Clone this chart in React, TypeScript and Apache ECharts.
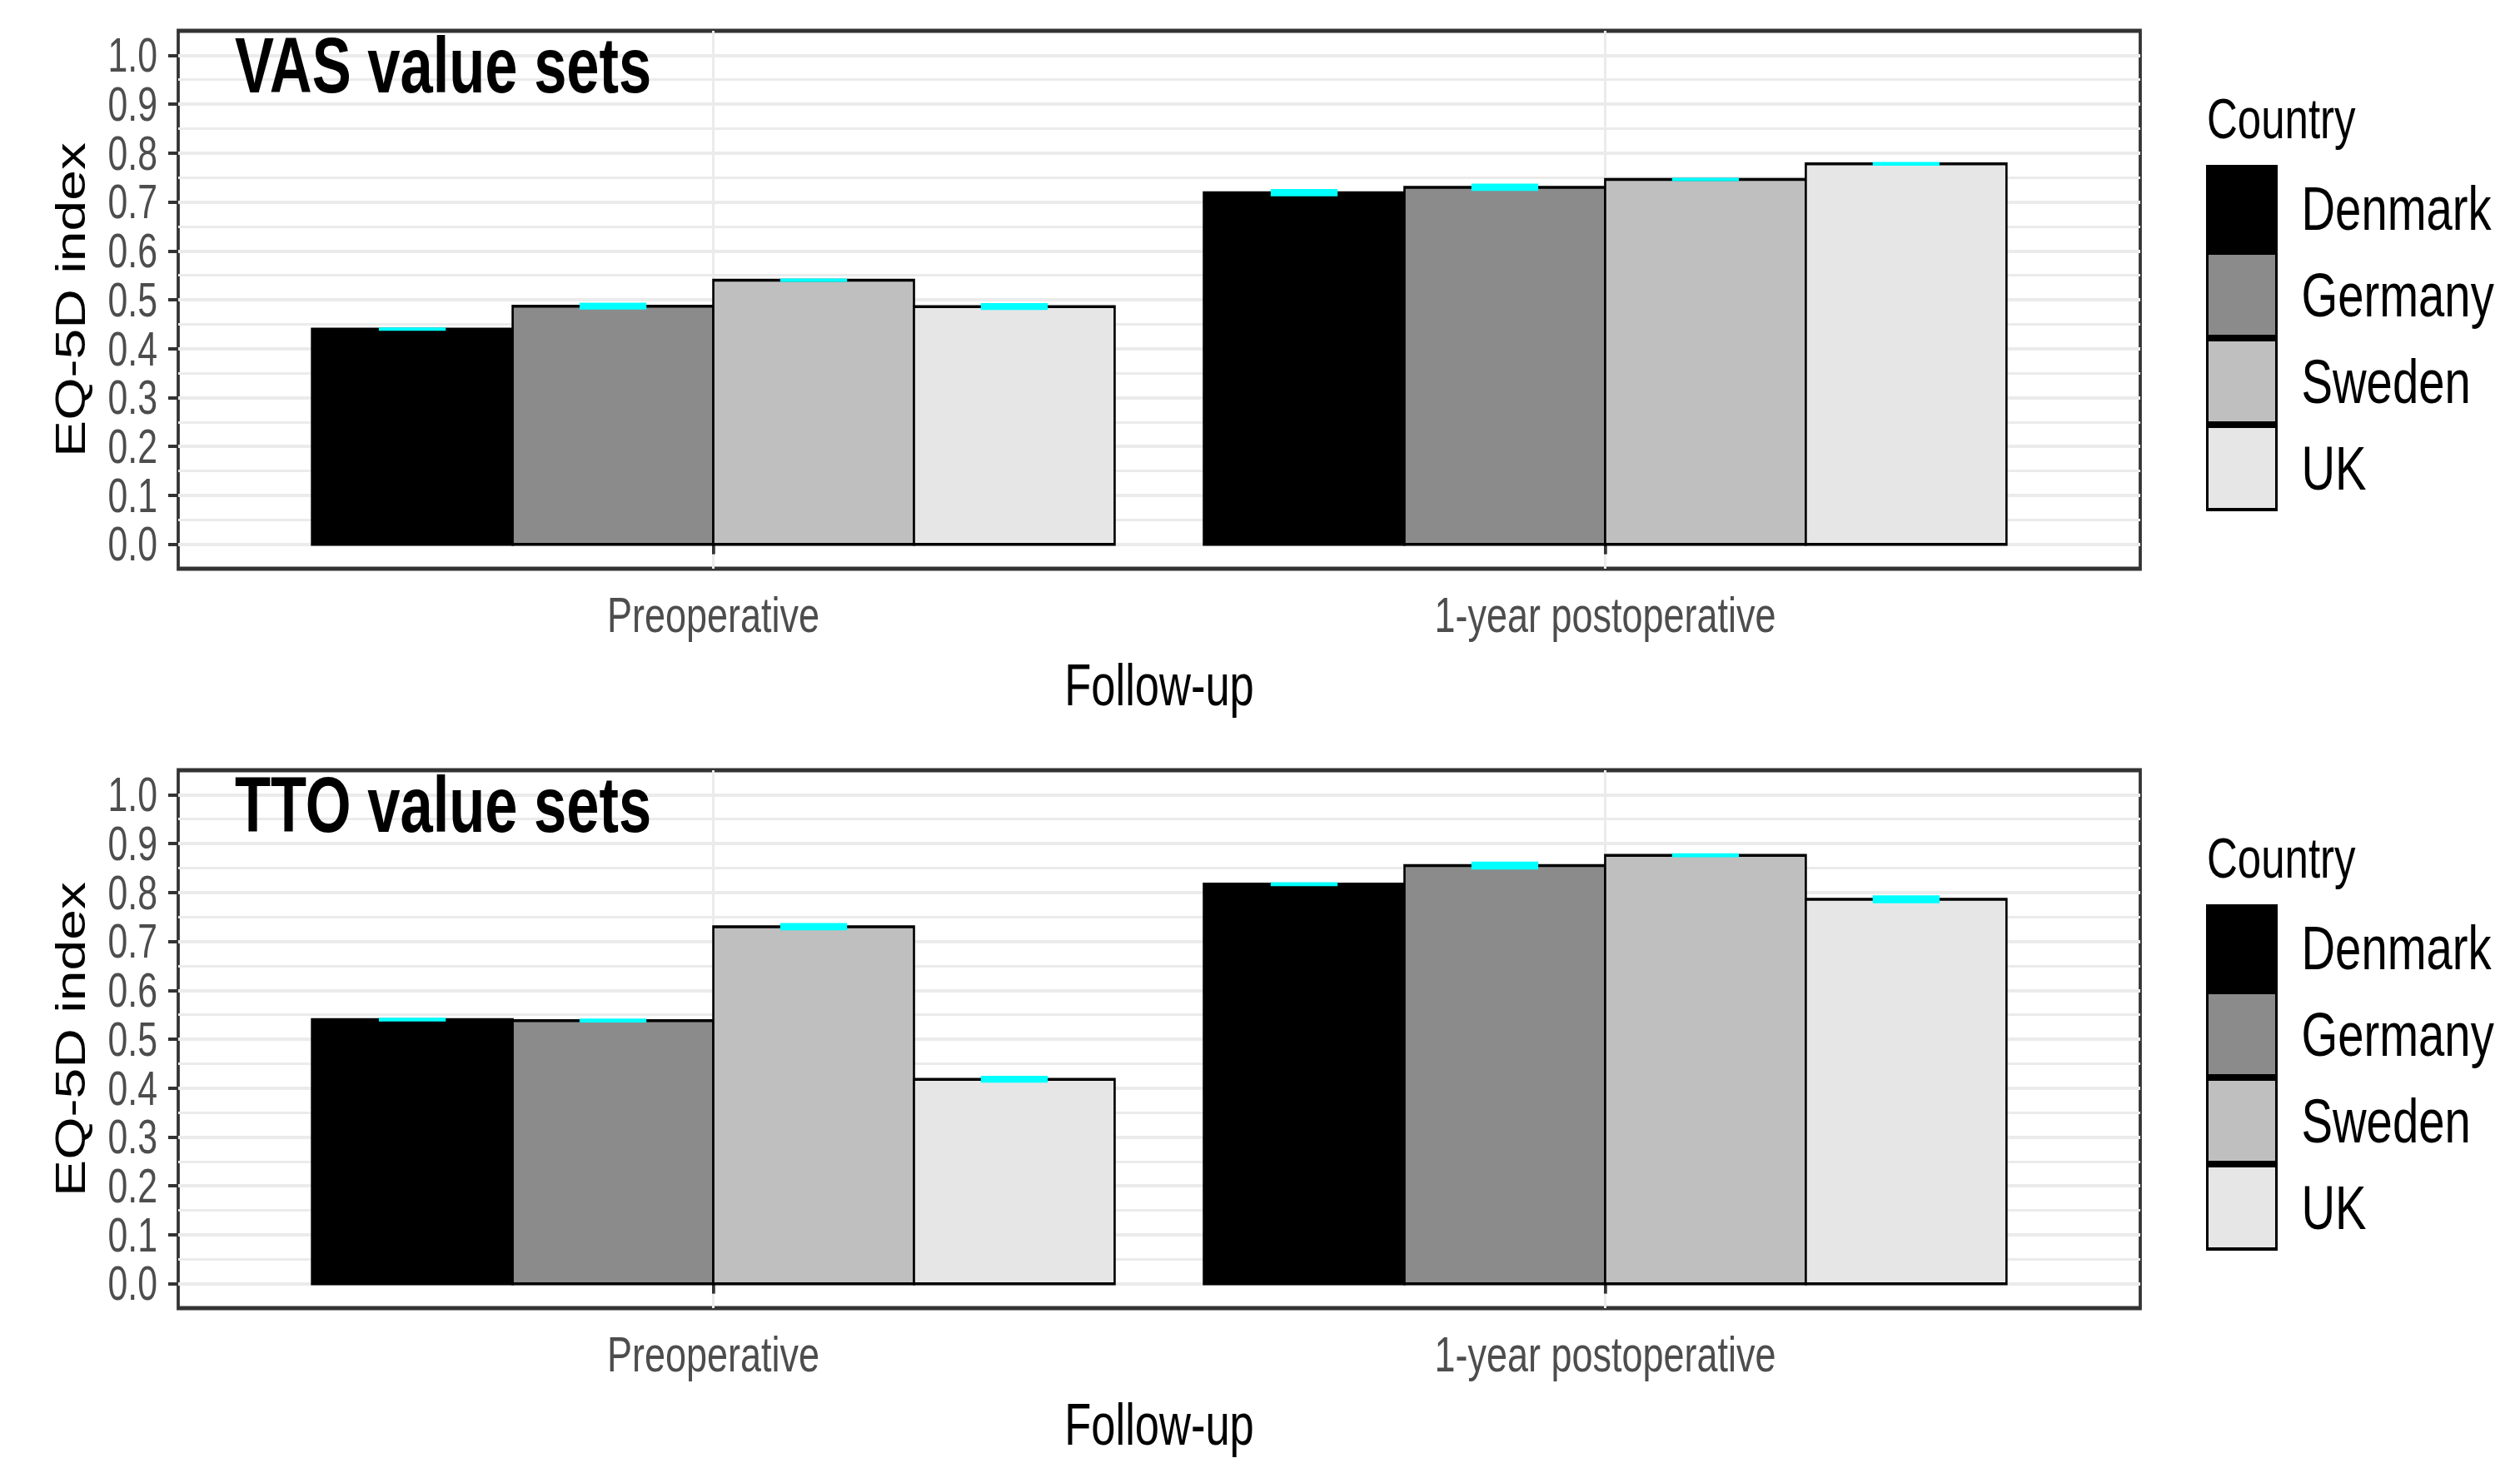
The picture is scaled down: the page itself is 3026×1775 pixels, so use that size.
import React, { useEffect, useRef } from "react";
import * as echarts from "echarts";

// ---------- data ----------
const categories = ["Preoperative", "1-year postoperative"];
const countries = ["Denmark", "Germany", "Sweden", "UK"];
const countryColors = ["#000000", "#8B8B8B", "#BFBFBF", "#E6E6E6"];
const yTicks = [0, 0.1, 0.2, 0.3, 0.4, 0.5, 0.6, 0.7, 0.8, 0.9, 1.0];
const yMinorTicks = [0.05, 0.15, 0.25, 0.35, 0.45, 0.55, 0.65, 0.75, 0.85, 0.95];
const panelTitles = ["VAS value sets", "TTO value sets"];

// VAS value sets (mean EQ-5D index per follow-up)
const vasDenmark = [0.44, 0.719];
const vasGermany = [0.487, 0.73];
const vasSweden = [0.54, 0.746];
const vasUK = [0.486, 0.778];
// half-width of the (cyan) interval
const vasDenmarkCI = [0.0035, 0.0075];
const vasGermanyCI = [0.007, 0.0075];
const vasSwedenCI = [0.0035, 0.0035];
const vasUKCI = [0.007, 0.004];

// TTO value sets
const ttoDenmark = [0.54, 0.817];
const ttoGermany = [0.538, 0.855];
const ttoSweden = [0.73, 0.876];
const ttoUK = [0.418, 0.786];
const ttoDenmarkCI = [0.004, 0.004];
const ttoGermanyCI = [0.004, 0.008];
const ttoSwedenCI = [0.0075, 0.004];
const ttoUKCI = [0.007, 0.008];

const panelValues = [
  [vasDenmark, vasGermany, vasSweden, vasUK],
  [ttoDenmark, ttoGermany, ttoSweden, ttoUK],
];
const panelCIs = [
  [vasDenmarkCI, vasGermanyCI, vasSwedenCI, vasUKCI],
  [ttoDenmarkCI, ttoGermanyCI, ttoSwedenCI, ttoUKCI],
];

// ---------- styling ----------
// The original figure is horizontally squeezed; the chart is laid out on a wider
// canvas and compressed with a CSS scaleX so that text gets the same narrow look.
const SX = 0.75;
const W = 3026;
const H = 1775;
const IW = Math.round(W / SX);
const ix = (a: number) => a / SX; // page px -> internal px (horizontal)

const FONT = "'Liberation Sans', Arial, Helvetica, sans-serif";
const GROUP_W = 0.9;
const BAR_W = GROUP_W / countries.length;
const CAP_W = BAR_W / 3;
const panelTops = [37, 925];
const panelBottoms = [683, 1571];
const panelLeft = ix(214);
const panelRight = ix(2570);

function makeRender(k: number, color: string) {
  return (params: any, api: any) => {
    const x = api.value(0);
    const v = api.value(1);
    const ci = api.value(2);
    const x0 = x - GROUP_W / 2 + k * BAR_W;
    const x1 = x0 + BAR_W;
    const pTop = api.coord([x0, v]);
    const pBase = api.coord([x1, 0]);
    const cx0 = x0 + BAR_W / 2 - CAP_W / 2;
    const cx1 = cx0 + CAP_W;
    const cTop = api.coord([cx0, v + ci]);
    const cBot = api.coord([cx1, v - ci]);
    return {
      type: "group",
      children: [
        {
          type: "rect",
          shape: { x: pTop[0], y: pTop[1], width: pBase[0] - pTop[0], height: pBase[1] - pTop[1] },
          style: { fill: color, stroke: "#000000", lineWidth: 3.5 },
        },
        {
          type: "rect",
          shape: {
            x: cTop[0],
            y: cTop[1],
            width: cBot[0] - cTop[0],
            height: Math.max(cBot[1] - cTop[1], 3),
          },
          style: { fill: "#00FFFF" },
        },
      ],
    };
  };
}

export default function App() {
  const ref = useRef<HTMLDivElement>(null);
  useEffect(() => {
    if (!ref.current) return;
    const prevOverflow = document.body.style.overflow;
    document.body.style.overflow = "hidden";
    const chart = echarts.init(ref.current, undefined, { renderer: "svg" });
    const xCustom = categories.map((_, i) => i + 1);

    const grids = panelTops.map((t, pi) => ({
      left: panelLeft,
      right: IW - panelRight,
      top: t,
      bottom: H - panelBottoms[pi],
      show: true,
      borderColor: "#333333",
      borderWidth: 5,
      backgroundColor: "transparent",
    }));

    const xAxes = panelTops.map((_, pi) => ({
      type: "value",
      gridIndex: pi,
      min: 0.4,
      max: 2.6,
      axisLine: { show: false },
      axisTick: { show: true, length: 12, customValues: xCustom, lineStyle: { color: "#333333", width: 5 } },
      axisLabel: {
        customValues: xCustom,
        formatter: (v: number) => categories[Math.round(v) - 1] ?? "",
        margin: 25,
        fontSize: 60,
        color: "#4D4D4D",
        fontFamily: FONT,
      },
      splitLine: { show: true, lineStyle: { color: "#EBEBEB", width: 4 } },
      name: "Follow-up",
      nameLocation: "middle",
      nameGap: 105,
      nameTextStyle: { fontSize: 70, color: "#000000", fontFamily: FONT },
    }));

    const yAxes: any[] = [];
    panelTops.forEach((_, pi) => {
      yAxes.push({
        type: "value",
        gridIndex: pi,
        position: "left",
        min: -0.05,
        max: 1.05,
        axisLine: { show: false },
        axisTick: {
          show: true,
          length: ix(12),
          customValues: yTicks,
          lineStyle: { color: "#333333", width: 4 },
        },
        axisLabel: {
          customValues: yTicks,
          formatter: (v: number) => v.toFixed(1),
          margin: ix(25),
          fontSize: 57,
          color: "#4D4D4D",
          fontFamily: FONT,
        },
        splitLine: { show: true, lineStyle: { color: "#EBEBEB", width: 4 } },
        name: "EQ-5D index",
        nameLocation: "middle",
        nameGap: ix(105),
        nameRotate: 90,
        nameTextStyle: { fontSize: 66, color: "#000000", fontFamily: FONT },
      });
      yAxes.push({
        type: "value",
        gridIndex: pi,
        position: "left",
        min: -0.05,
        max: 1.05,
        axisLine: { show: false },
        axisTick: { show: false, customValues: yMinorTicks },
        axisLabel: { show: false, customValues: yMinorTicks },
        splitLine: { show: true, lineStyle: { color: "#EBEBEB", width: 3 } },
      });
    });

    const series: any[] = [];
    panelTops.forEach((_, pi) => {
      countries.forEach((c, k) => {
        series.push({
          type: "custom",
          name: c,
          xAxisIndex: pi,
          yAxisIndex: pi * 2,
          itemStyle: { color: countryColors[k], borderColor: "#000000", borderWidth: 4 },
          encode: { x: 0, y: 1 },
          renderItem: makeRender(k, countryColors[k]),
          data: categories.map((_, i) => [i + 1, panelValues[pi][k][i], panelCIs[pi][k][i]]),
        });
      });
    });

    const legends = panelTops.map((t) => ({
      orient: "vertical",
      left: ix(2649),
      top: t + 161,
      itemWidth: ix(83),
      itemHeight: 100,
      itemGap: 0,
      padding: 0,
      selectedMode: false,
      data: countries.map((c, k) => ({
        name: c,
        icon: "rect",
        itemStyle: { color: countryColors[k], borderColor: "#000000", borderWidth: 4 },
      })),
      textStyle: { fontSize: 75, fontFamily: FONT, color: "#000000", padding: [0, 0, 0, 35] },
    }));

    const titles = panelTops.map((t, pi) => ({
      text: panelTitles[pi],
      left: ix(282),
      top: t - 5,
      padding: 0,
      textStyle: { fontSize: 94, fontWeight: "bold", fontFamily: FONT, color: "#000000" },
    }));

    const graphics = panelTops.map((t) => ({
      type: "text",
      left: ix(2650),
      top: t + 72,
      style: { text: "Country", fontSize: 68, fontFamily: FONT, fill: "#000000" },
    }));

    chart.setOption({
      animation: false,
      backgroundColor: "#FFFFFF",
      title: titles,
      grid: grids,
      xAxis: xAxes,
      yAxis: yAxes,
      legend: legends,
      graphic: graphics,
      series,
    });
    return () => {
      chart.dispose();
      document.body.style.overflow = prevOverflow;
    };
  }, []);
  return (
    <div
      ref={ref}
      style={{
        position: "fixed",
        left: 0,
        top: 0,
        width: IW,
        height: H,
        background: "#FFFFFF",
        transform: `scaleX(${SX})`,
        transformOrigin: "0 0",
      }}
    />
  );
}
